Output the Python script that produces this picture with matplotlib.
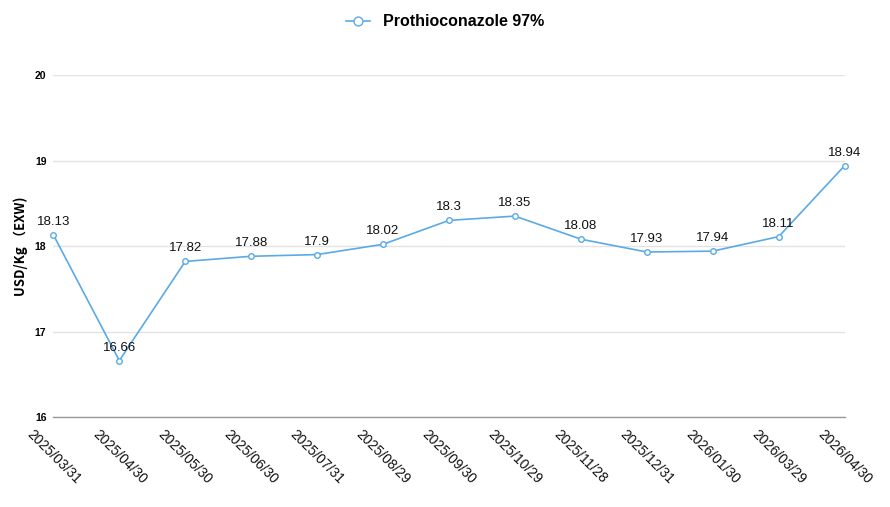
import matplotlib.pyplot as plt

dates = ["2025/03/31", "2025/04/30", "2025/05/30", "2025/06/30", "2025/07/31",
         "2025/08/29", "2025/09/30", "2025/10/29", "2025/11/28", "2025/12/31",
         "2026/01/30", "2026/03/29", "2026/04/30"]
prices = [18.13, 16.66, 17.82, 17.88, 17.9, 18.02, 18.3, 18.35, 18.08, 17.93,
          17.94, 18.11, 18.94]
series_name = "Prothioconazole 97%"
line_color = "#5aaae6"

plt.rcParams['font.family'] = ['Liberation Sans', 'DejaVu Sans']

fig = plt.figure(figsize=(8.9, 5.07), dpi=100)
ax = fig.add_axes([0.06, 0.1775, 0.889, 0.6745])

x = list(range(len(dates)))
ax.plot(x, prices, color=line_color, linewidth=1.2, marker='o', markersize=4,
        markerfacecolor='white', markeredgecolor=line_color, markeredgewidth=1,
        label=series_name, clip_on=False, zorder=3)

for xi, v in zip(x, prices):
    ax.annotate(f"{v:g}", (xi, v), xytext=(0, 5), textcoords='offset points',
                ha='center', va='bottom', fontsize=9.5, color='#111111')

ax.set_xlim(0, len(dates) - 1)
ax.set_ylim(16, 20)
ax.set_yticks([16, 17, 18, 19, 20])
ax.set_yticklabels(["16", "17", "18", "19", "20"], fontsize=7.5, fontweight='bold')
ax.set_xticks(x)
ax.set_xticklabels(dates, rotation=-45, ha='center', va='top', fontsize=10,
                   color='#111111')
ax.tick_params(axis='both', length=0)
ax.tick_params(axis='y', pad=5)
ax.tick_params(axis='x', pad=7)

ax.grid(axis='y', color='#e3e3e3', linewidth=1)
ax.set_axisbelow(True)
for s in ['top', 'right', 'left']:
    ax.spines[s].set_visible(False)
ax.spines['bottom'].set_color('#999999')
ax.spines['bottom'].set_linewidth(1)

ax.set_ylabel("USD/Kg （EXW)", fontsize=9.5, fontweight='bold',
              family=['Noto Sans CJK SC', 'Liberation Sans'], labelpad=5)

leg = fig.legend(loc='upper center', bbox_to_anchor=(0.5, 1.0), frameon=False,
                 prop={'size': 11.5, 'weight': 'bold'}, handlelength=1.5,
                 markerscale=1.6)

fig.savefig("out.png", dpi=100)
